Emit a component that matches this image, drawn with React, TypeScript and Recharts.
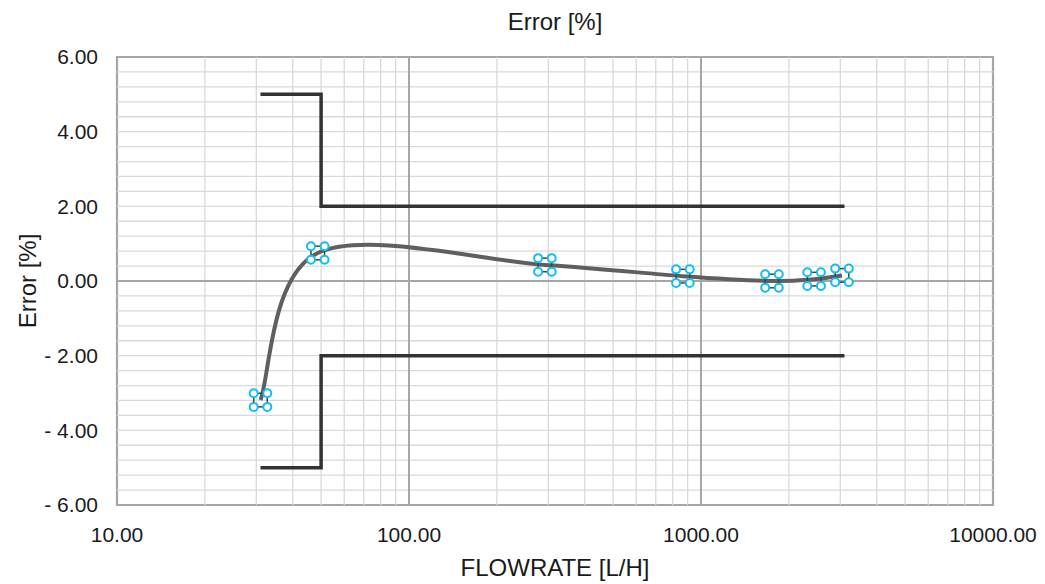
import React from "react";
import {
  LineChart,
  Line,
  XAxis,
  YAxis,
  ReferenceLine,
  ReferenceArea,
} from "recharts";

// measured error points
const flow = [31, 48.7, 292, 867, 1750, 2440, 3040];
const error = [-3.19, 0.75, 0.43, 0.13, 0.0, 0.05, 0.15];

// tolerance limits
const upperFlow = [31, 50, 50, 3100];
const upperErr = [5, 5, 2, 2];
const lowerFlow = [31, 50, 50, 3100];
const lowerErr = [-5, -5, -2, -2];

const xTicks = [10, 100, 1000, 10000];
const yTicks = [-6, -4, -2, 0, 2, 4, 6];
const xMajor = [100, 1000];
const xMinor = [
  20, 30, 40, 50, 60, 70, 80, 90,
  200, 300, 400, 500, 600, 700, 800, 900,
  2000, 3000, 4000, 5000, 6000, 7000, 8000, 9000,
];
const yMinor = [
  -5.6, -5.2, -4.8, -4.4, -4, -3.6, -3.2, -2.8, -2.4, -2, -1.6, -1.2, -0.8, -0.4,
  0.4, 0.8, 1.2, 1.6, 2, 2.4, 2.8, 3.2, 3.6, 4, 4.4, 4.8, 5.2, 5.6,
];

const measured = flow.map((x, i) => ({ x, y: error[i] }));
const upper = upperFlow.map((x, i) => ({ x, y: upperErr[i] }));
const lower = lowerFlow.map((x, i) => ({ x, y: lowerErr[i] }));

const FONT = "'Liberation Sans', Arial, sans-serif";
const TEXT = "#1a1a1a";

// smooth curve similar to spreadsheet "smoothed line"
function smoothCurve(context: any) {
  let pts: number[][] = [];
  return {
    areaStart() {},
    areaEnd() {},
    lineStart() {
      pts = [];
    },
    lineEnd() {
      if (!pts.length) return;
      context.moveTo(pts[0][0], pts[0][1]);
      for (let i = 0; i < pts.length - 1; i++) {
        const p0 = pts[i - 1] || pts[i];
        const p1 = pts[i];
        const p2 = pts[i + 1];
        const p3 = pts[i + 2] || p2;
        context.bezierCurveTo(
          p1[0] + (p2[0] - p0[0]) / 6,
          p1[1] + (p2[1] - p0[1]) / 6,
          p2[0] - (p3[0] - p1[0]) / 6,
          p2[1] - (p3[1] - p1[1]) / 6,
          p2[0],
          p2[1]
        );
      }
    },
    point(x: number, y: number) {
      pts.push([+x, +y]);
    },
  };
}

const Marker = (props: any) => {
  const { cx, cy, index } = props;
  if (cx == null || cy == null) return null;
  const d = 6.8;
  const corners = [
    [-d, -d],
    [d, -d],
    [d, d],
    [-d, d],
  ];
  return (
    <g key={`m-${index}`}>
      <rect
        x={cx - d}
        y={cy - d}
        width={d * 2}
        height={d * 2}
        fill="none"
        stroke="#404040"
        strokeWidth={1.5}
      />
      {corners.map((c, i) => (
        <circle
          key={i}
          cx={cx + c[0]}
          cy={cy + c[1]}
          r={4}
          fill="#fff"
          stroke="#12bdf0"
          strokeWidth={2}
        />
      ))}
    </g>
  );
};

const yFmt = (v: number) => (v < 0 ? `- ${Math.abs(v).toFixed(2)}` : v.toFixed(2));

export default function App() {
  return (
    <div style={{ position: "relative", width: 1037, height: 576, fontFamily: FONT }}>
      <div
        style={{
          position: "absolute",
          top: 0,
          left: 109,
          width: 876,
          textAlign: "center",
          fontSize: 24,
          lineHeight: "28px",
          color: TEXT,
        }}
      >
        Error [%]
      </div>
      <LineChart
        width={1037}
        height={576}
        margin={{ top: 49, right: 52, bottom: 0, left: 0 }}
      >
        {xMinor.map((v) => (
          <ReferenceLine key={`xm${v}`} x={v} stroke="#d9d9d9" strokeWidth={1.3} />
        ))}
        {yMinor.map((v) => (
          <ReferenceLine key={`ym${v}`} y={v} stroke="#d9d9d9" strokeWidth={1.3} />
        ))}
        {xMajor.map((v) => (
          <ReferenceLine key={`xM${v}`} x={v} stroke="#a6a6a6" strokeWidth={2} />
        ))}
        <ReferenceLine y={0} stroke="#a6a6a6" strokeWidth={2} />
        <ReferenceArea
          x1={10}
          x2={10000}
          y1={-6}
          y2={6}
          fill="none"
          fillOpacity={0}
          stroke="#a6a6a6"
          strokeWidth={2.2}
        />
        <XAxis
          dataKey="x"
          type="number"
          scale="log"
          domain={[10, 10000]}
          ticks={xTicks}
          allowDataOverflow
          axisLine={false}
          tickLine={false}
          tickSize={0}
          tickMargin={22}
          height={79}
          tickFormatter={(v: number) => v.toFixed(2)}
          tick={{ fontSize: 21, fill: TEXT, fontFamily: FONT }}
          label={{
            value: "FLOWRATE [L/H]",
            position: "insideBottom",
            offset: 8,
            fontSize: 24,
            fill: TEXT,
            fontFamily: FONT,
          }}
        />
        <YAxis
          dataKey="y"
          type="number"
          domain={[-6, 6]}
          ticks={yTicks}
          allowDataOverflow
          axisLine={false}
          tickLine={false}
          tickSize={0}
          tickMargin={19}
          width={109}
          tickFormatter={yFmt}
          tick={{ fontSize: 21, fill: TEXT, fontFamily: FONT }}
          label={{
            value: "Error [%]",
            angle: -90,
            position: "insideLeft",
            offset: 19,
            fontSize: 24,
            fill: TEXT,
            fontFamily: FONT,
            style: { textAnchor: "middle" },
          }}
        />
        <Line
          data={upper}
          dataKey="y"
          type="linear"
          stroke="#333333"
          strokeWidth={3.5}
          dot={false}
          isAnimationActive={false}
        />
        <Line
          data={lower}
          dataKey="y"
          type="linear"
          stroke="#333333"
          strokeWidth={3.5}
          dot={false}
          isAnimationActive={false}
        />
        <Line
          data={measured}
          dataKey="y"
          type={smoothCurve as any}
          stroke="#5f5f5f"
          strokeWidth={4}
          dot={<Marker />}
          activeDot={false}
          isAnimationActive={false}
        />
      </LineChart>
    </div>
  );
}
